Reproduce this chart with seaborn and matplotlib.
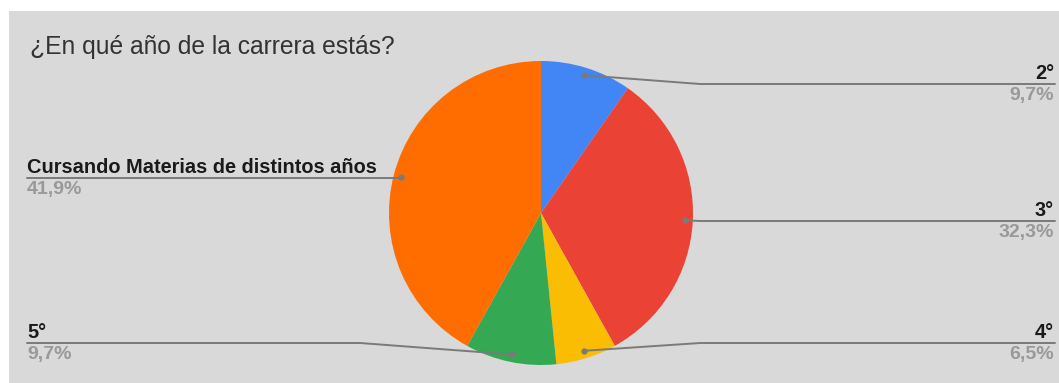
import numpy as np
import matplotlib
matplotlib.use("Agg")
import matplotlib.pyplot as plt
import seaborn as sns
from matplotlib.patches import Rectangle

# Survey answers: "¿En qué año de la carrera estás?" (31 respuestas)
categories = ["2°", "3°", "4°", "5°", "Cursando Materias de distintos años"]
counts = [3, 10, 2, 3, 13]
pct_labels = ["9,7%", "32,3%", "6,5%", "9,7%", "41,9%"]
colors = ["#4285F4", "#EA4335", "#FBBC04", "#34A853", "#FF6D01"]

sns.set_theme(style="white")
plt.rcParams["font.family"] = ["Liberation Sans", "DejaVu Sans"]

W, H = 1059, 383
fig = plt.figure(figsize=(W / 100, H / 100), dpi=100, facecolor="white")
ax = fig.add_axes([0, 0, 1, 1])

# panel background
ax.add_patch(Rectangle((9, 11), W - 9, H - 11, facecolor="#d9d9d9",
                       edgecolor="none", zorder=0))

ax.text(30, 47, "¿En qué año de la carrera estás?", fontsize=17.7,
        color="#333333", va="center", ha="left")

cx, cy, R = 541, 213, 152
wedges, _ = ax.pie(counts, colors=colors, startangle=-90, counterclock=True,
                   center=(cx, cy), radius=R, frame=True,
                   wedgeprops=dict(linewidth=0))
ax.set_xlim(0, W)
ax.set_ylim(H, 0)
ax.set_aspect("equal")
ax.axis("off")

# label layout: (line y, side, elbow x)
layout = {
    "2°": (84, "right", 700),
    "3°": (221, "right", 700),
    "4°": (343, "right", 700),
    "5°": (343, "left", 360),
    "Cursando Materias de distintos años": (178, "left", None),
}
line_col = "#7a7a7a"
for w, name, pct in zip(wedges, categories, pct_labels):
    mid = np.deg2rad((w.theta1 + w.theta2) / 2)
    px = cx + 0.95 * R * np.cos(mid)
    py = cy + 0.95 * R * np.sin(mid)
    ly, side, ex = layout[name]
    ex = ex if ex is not None else px
    if side == "right":
        xe, tx, ha = 1055, 1054, "right"
    else:
        xe, tx, ha = 27, 27, "left"
    ax.plot([px, ex, xe], [py, ly, ly], color=line_col, lw=1.4, zorder=5)
    ax.plot([px], [py], "o", color=line_col, ms=3.5, zorder=6)
    ax.text(tx, ly - 5, name, fontsize=14.4, fontweight="bold",
            color="#1a1a1a", ha=ha, va="baseline")
    ax.text(tx, ly + 3, pct, fontsize=14, fontweight="bold",
            color="#999999", ha=ha, va="top")

fig.savefig("out.png", dpi=100, facecolor="white")
